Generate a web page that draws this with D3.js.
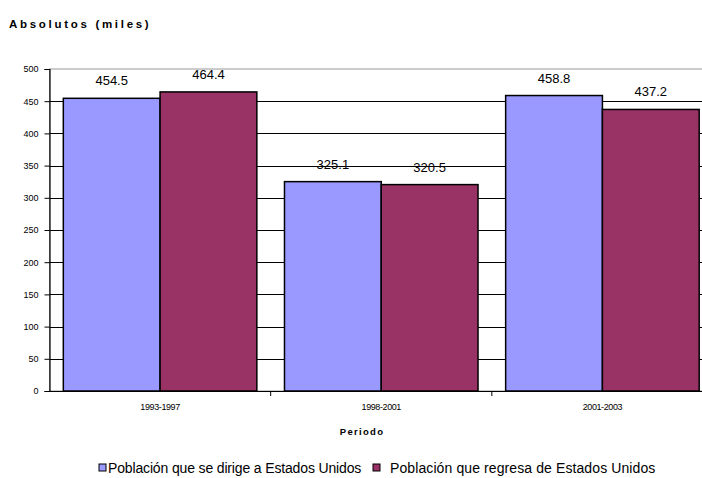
<!DOCTYPE html>
<html><head><meta charset="utf-8">
<script src="https://cdn.jsdelivr.net/npm/d3@7"></script>
<style>
body{margin:0;background:#fff;}
svg{display:block;font-family:Arial,"Liberation Sans",sans-serif;}
</style></head>
<body>
<svg id="c" width="702" height="478"></svg>
<script>
const categories = ["1993-1997","1998-2001","2001-2003"];
const seriesNames = ["Población que se dirige a Estados Unidos","Población que regresa de Estados Unidos"];
const seriesColors = ["#9999FF","#993366"];
const seriesGoing = [454.5, 325.1, 458.8];
const seriesReturning = [464.4, 320.5, 437.2];
const yTicks = [0,50,100,150,200,250,300,350,400,450,500];
const titleText = "Absolutos (miles)";
const xTitleText = "Periodo";

const svg = d3.select("#c");
const pLeft = 49.5, pRight = 713, pTop = 69, pBottom = 391;

const x = d3.scaleBand().domain(categories).range([pLeft, pRight]).paddingInner(0).paddingOuter(0);
const xs = d3.scaleBand().domain([0,1]).range([0, x.bandwidth()]).paddingInner(0).paddingOuter(0.1428);
const y = d3.scaleLinear().domain([0,500]).range([pBottom, pTop]);

// plot border (grey)
svg.append("rect").attr("x",pLeft).attr("y",pTop).attr("width",pRight-pLeft).attr("height",pBottom-pTop)
  .attr("fill","none").attr("stroke","#999").attr("stroke-width",1);

// gridlines
svg.append("g").selectAll("line").data(yTicks.filter(d=>d>0 && d<500)).join("line")
  .attr("x1",pLeft).attr("x2",pRight).attr("y1",d=>Math.round(y(d))+0.5).attr("y2",d=>Math.round(y(d))+0.5)
  .attr("stroke","#000").attr("stroke-width",1);

const data = categories.map((c,i)=>({c, vals:[seriesGoing[i], seriesReturning[i]]}));

const g = svg.append("g").selectAll("g").data(data).join("g")
  .attr("transform",d=>`translate(${x(d.c)},0)`);
g.selectAll("rect").data(d=>d.vals.map((v,k)=>({v,k}))).join("rect")
  .attr("x",d=>xs(d.k)).attr("width",xs.bandwidth())
  .attr("y",d=>y(d.v)).attr("height",d=>y(0)-y(d.v))
  .attr("fill",d=>seriesColors[d.k]).attr("stroke","#000").attr("stroke-width",1.5);
g.selectAll("text").data(d=>d.vals.map((v,k)=>({v,k}))).join("text")
  .attr("x",d=>xs(d.k)+xs.bandwidth()/2).attr("y",d=>y(d.v)-13)
  .attr("text-anchor","middle").attr("font-size","13px").attr("fill","#000")
  .text(d=>d.v.toFixed(1));

// y axis
const yAxis = d3.axisLeft(y).tickValues(yTicks).tickSize(5).tickPadding(6);
const ya = svg.append("g").attr("transform",`translate(${pLeft},0)`).call(yAxis);
ya.select(".domain").attr("stroke","#000").attr("stroke-width",1.2);
ya.selectAll("text").attr("font-size","9px").attr("font-family","Arial").attr("fill","#000");
ya.selectAll(".tick line").attr("stroke","#000");

// x axis
const xAxis = d3.axisBottom(x).tickSize(0).tickPadding(13);
const xa = svg.append("g").attr("transform",`translate(0,${pBottom})`).call(xAxis);
xa.select(".domain").attr("stroke","#000").attr("stroke-width",1.2);
xa.selectAll("text").attr("font-size","9px").attr("font-family","Arial").attr("letter-spacing","-0.4px").attr("fill","#000");
// category separator ticks
xa.append("g").selectAll("line").data(categories.slice(1)).join("line")
  .attr("x1",d=>x(d)).attr("x2",d=>x(d)).attr("y1",0).attr("y2",5).attr("stroke","#000");

// titles
svg.append("text").attr("x",9).attr("y",28).attr("font-size","11.5px").attr("font-weight","bold")
  .attr("letter-spacing","2.7px").text(titleText);
svg.append("text").attr("x",362).attr("y",435).attr("text-anchor","middle").attr("font-size","9.5px")
  .attr("font-weight","bold").attr("letter-spacing","1.3px").text(xTitleText);

// legend
const legX = [99, 373];
const leg = svg.append("g").selectAll("g").data(seriesNames).join("g")
  .attr("transform",(d,i)=>`translate(${legX[i]},464)`);
leg.append("rect").attr("width",7).attr("height",7).attr("fill",(d,i)=>seriesColors[i]).attr("stroke","#000").attr("stroke-width",1);
leg.append("text").attr("x",(d,i)=> i===0?9:17).attr("y",8.5).attr("font-size","14px").attr("letter-spacing",(d,i)=> i===0?"-0.15px":"0.1px").text(d=>d);
</script>
</body></html>
